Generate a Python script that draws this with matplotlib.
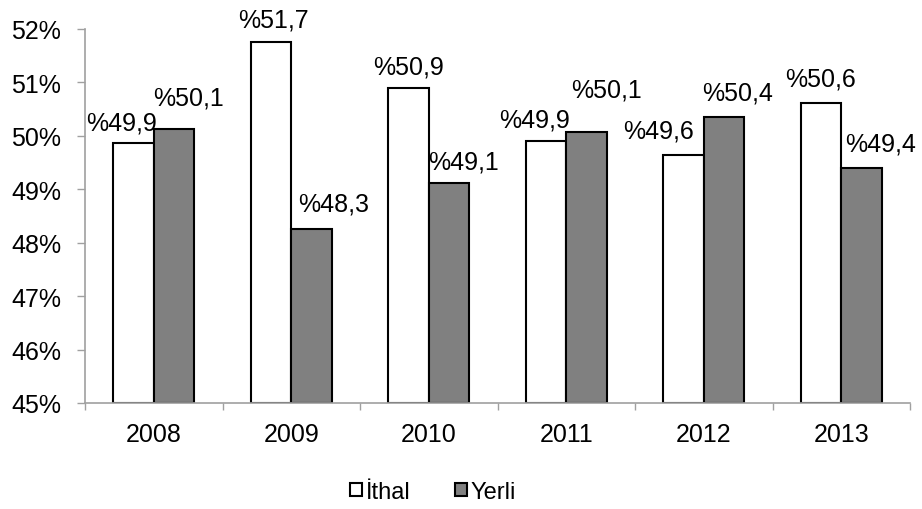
import matplotlib.pyplot as plt
from matplotlib.patches import Patch
import numpy as np

plt.rcParams['font.family'] = ['Liberation Sans', 'DejaVu Sans']

# data
years = ['2008', '2009', '2010', '2011', '2012', '2013']
ithal = [49.86, 51.75, 50.90, 49.90, 49.65, 50.61]
yerli = [50.13, 48.26, 49.12, 50.08, 50.36, 49.39]
ithal_labels = ['%49,9', '%51,7', '%50,9', '%49,9', '%49,6', '%50,6']
yerli_labels = ['%50,1', '%48,3', '%49,1', '%50,1', '%50,4', '%49,4']
yticks = [45, 46, 47, 48, 49, 50, 51, 52]
ytick_labels = ['45%', '46%', '47%', '48%', '49%', '50%', '51%', '52%']

# label offsets in pixels from bar top centre (as placed in the original)
ithal_off = [(-12, 14), (2, 16), (0, 14), (-11, 15), (-25, 17), (0, 18)]
yerli_off = [(14, 24), (22, 18), (14, 14), (20, 35), (14, 17), (19, 18)]

fig = plt.figure(figsize=(9.22, 5.10), dpi=100)
ax = fig.add_axes([85/922, 1-404/510, 825/922, 374/510])

x = np.arange(len(years))
w = 0.295
b1 = ax.bar(x - w/2, np.array(ithal) - 45, w, bottom=45, color='white',
            edgecolor='black', linewidth=1.5, label='İthal')
b2 = ax.bar(x + w/2, np.array(yerli) - 45, w, bottom=45, color='#808080',
            edgecolor='black', linewidth=1.5, label='Yerli')

for i in range(len(years)):
    ax.annotate(ithal_labels[i], xy=(x[i] - w/2, ithal[i]), xytext=ithal_off[i],
                textcoords='offset pixels', ha='center', va='baseline',
                fontsize=18, annotation_clip=False)
    ax.annotate(yerli_labels[i], xy=(x[i] + w/2, yerli[i]), xytext=yerli_off[i],
                textcoords='offset pixels', ha='center', va='baseline',
                fontsize=18, annotation_clip=False)

ax.set_xlim(-0.5, len(years) - 0.5)
ax.set_ylim(45, 52)
ax.set_yticks(yticks)
ax.set_yticklabels(ytick_labels)
ax.set_xticks(np.arange(len(years) + 1) - 0.5)
ax.set_xticklabels([])
ax.set_xticks(x, minor=True)
ax.set_xticklabels(years, minor=True)
ax.tick_params(axis='x', which='major', length=5, color='#a0a0a0', width=1)
ax.tick_params(axis='x', which='minor', length=0, pad=14, labelsize=18)
ax.tick_params(axis='y', length=6, color='#a0a0a0', width=1, pad=11, labelsize=18)

for s in ['top', 'right']:
    ax.spines[s].set_visible(False)
for s in ['left', 'bottom']:
    ax.spines[s].set_color('#a0a0a0')
    ax.spines[s].set_linewidth(1.2)

handles = [Patch(facecolor='white', edgecolor='black', linewidth=1.5, label='İthal'),
           Patch(facecolor='#808080', edgecolor='black', linewidth=1.5, label='Yerli')]
fig.legend(handles=handles, loc='center', bbox_to_anchor=(0.47, 1-493/510), ncol=2,
           frameon=False, fontsize=17, handlelength=0.5, handleheight=0.5,
           handletextpad=0.15, columnspacing=1.9)

fig.savefig('out.png', dpi=100)
